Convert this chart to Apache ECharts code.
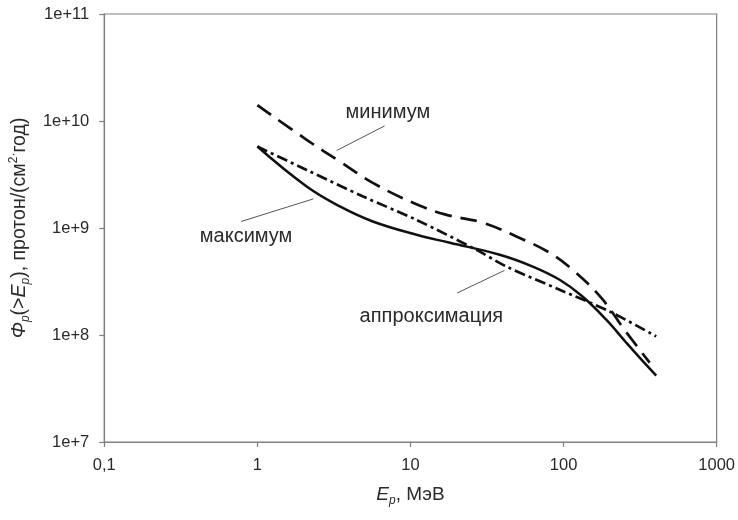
<!DOCTYPE html>
<html>
<head>
<meta charset="utf-8">
<script src="https://cdn.jsdelivr.net/npm/echarts@6/dist/echarts.min.js"></script>
<style>html,body{margin:0;padding:0;background:#fff}#c{width:738px;height:520px}</style>
</head>
<body>
<div id="c"></div>
<script>
// Data
const energyMax = [1, 2.1, 3.46, 5.68, 10.96, 18.1, 38.3, 62.9, 94.3, 133, 190, 257, 314, 403];
const fluxMax   = [5.77e9, 2.44e9, 1.59e9, 1.15e9, 8.64e8, 7.28e8, 5.62e8, 4.36e8, 3.28e8, 2.29e8, 1.39e8, 8.47e7, 6.14e7, 4.17e7];
const energyMin = [1, 2.1, 3.46, 5.68, 10.4, 16.8, 29.7, 49.2, 81.1, 114.5, 176, 250, 365];
const fluxMin   = [1.41e10, 6.67e9, 4.18e9, 2.64e9, 1.72e9, 1.34e9, 1.12e9, 8.34e8, 5.87e8, 4.07e8, 2.23e8, 1.12e8, 5.51e7];
const energyFit = [1, 2.1, 4.91, 10.96, 27.0, 42.4, 94.3, 200, 403];
const fluxFit   = [5.77e9, 3.49e9, 1.97e9, 1.19e9, 6.25e8, 4.36e8, 2.65e8, 1.66e8, 9.7e7];
const xTickLabels = {0.1: '0,1', 1: '1', 10: '10', 100: '100', 1000: '1000'};
const seriesNames = ['максимум', 'минимум', 'аппроксимация'];

// annotation anchors in data coordinates: [text center, leader start, leader end]
const annotations = [
  {text: 'минимум', at: [7.12, 1.19e10], from: [3.30, 5.30e9], to: [6.78, 9.0e9]},
  {text: 'максимум', at: [0.844, 8.28e8], from: [0.783, 1.15e9], to: [2.32, 1.87e9]},
  {text: 'аппроксимация', at: [13.7, 1.49e8], from: [20.2, 2.47e8], to: [41.1, 4.01e8]}
];

const zip = (a, b) => a.map((v, i) => [v, b[i]]);
const chart = echarts.init(document.getElementById('c'));
const font = 'Liberation Sans, Arial, sans-serif';
const axisGray = '#7f7f7f';
const txt = '#2a2a2a';

chart.setOption({
  animation: false,
  backgroundColor: '#fff',
  grid: {left: 104, right: 21, top: 14, bottom: 78, show: true, borderColor: axisGray, borderWidth: 1.2},
  xAxis: {
    type: 'log', logBase: 10, min: 0.1, max: 1000,
    axisLine: {lineStyle: {color: axisGray, width: 1.2}},
    axisTick: {show: true, length: 5, lineStyle: {color: axisGray, width: 1.2}},
    minorTick: {show: false},
    splitLine: {show: false},
    axisLabel: {margin: 15, color: txt, fontSize: 16.5, fontFamily: font,
      formatter: v => xTickLabels[v] !== undefined ? xTickLabels[v] : ''},
    name: '{i|E}{sub|p}, МэВ',
    nameLocation: 'middle', nameGap: 41,
    nameTextStyle: {color: txt, fontSize: 19, fontFamily: font, lineHeight: 24,
      rich: {
        i: {fontStyle: 'italic', fontSize: 19, fontFamily: font, color: txt, lineHeight: 24},
        sub: {fontStyle: 'italic', fontSize: 12, fontFamily: font, color: txt, verticalAlign: 'bottom', lineHeight: 14}
      }}
  },
  yAxis: {
    type: 'log', logBase: 10, min: 1e7, max: 1e11,
    axisLine: {show: true, lineStyle: {color: axisGray, width: 1.2}},
    axisTick: {show: true, length: 5, lineStyle: {color: axisGray, width: 1.2}},
    splitLine: {show: false},
    axisLabel: {margin: 15, color: txt, fontSize: 16.5, fontFamily: font,
      formatter: v => '1e+' + Math.round(Math.log10(v))},
    name: '{i|Φ}{sub|p}(>{i|E}{sub|p}), протон/(см{sup|2·}год)',
    nameLocation: 'middle', nameGap: 70, nameRotate: 90,
    nameTextStyle: {color: txt, fontSize: 19.5, fontFamily: font, lineHeight: 24,
      rich: {
        i: {fontStyle: 'italic', fontSize: 19.5, fontFamily: font, color: txt, lineHeight: 24},
        sub: {fontStyle: 'italic', fontSize: 12, fontFamily: font, color: txt, verticalAlign: 'bottom', lineHeight: 14},
        sup: {fontSize: 12, fontFamily: font, color: txt, verticalAlign: 'top', lineHeight: 14}
      }}
  },
  series: [
    {name: seriesNames[0], type: 'line', data: zip(energyMax, fluxMax), smooth: 0.4, showSymbol: false,
      lineStyle: {color: '#111', width: 2.5}},
    {name: seriesNames[1], type: 'line', data: zip(energyMin, fluxMin), smooth: 0.4, showSymbol: false,
      lineStyle: {color: '#111', width: 2.7, type: [17, 9]}},
    {name: seriesNames[2], type: 'line', data: zip(energyFit, fluxFit), smooth: 0.3, showSymbol: false,
      lineStyle: {color: '#111', width: 2.7, type: [11, 4, 3, 4]}}
  ]
});

const g = [];
annotations.forEach(a => {
  const c = chart.convertToPixel({gridIndex: 0}, a.at);
  const p1 = chart.convertToPixel({gridIndex: 0}, a.from);
  const p2 = chart.convertToPixel({gridIndex: 0}, a.to);
  g.push({type: 'line', shape: {x1: p1[0], y1: p1[1], x2: p2[0], y2: p2[1]},
    style: {stroke: '#555', lineWidth: 1}, z: 10});
  g.push({type: 'text', x: c[0], y: c[1], z: 10,
    style: {text: a.text, fill: txt, fontSize: 20, fontFamily: font, align: 'center', verticalAlign: 'middle'}});
});
chart.setOption({graphic: g});
</script>
</body>
</html>
